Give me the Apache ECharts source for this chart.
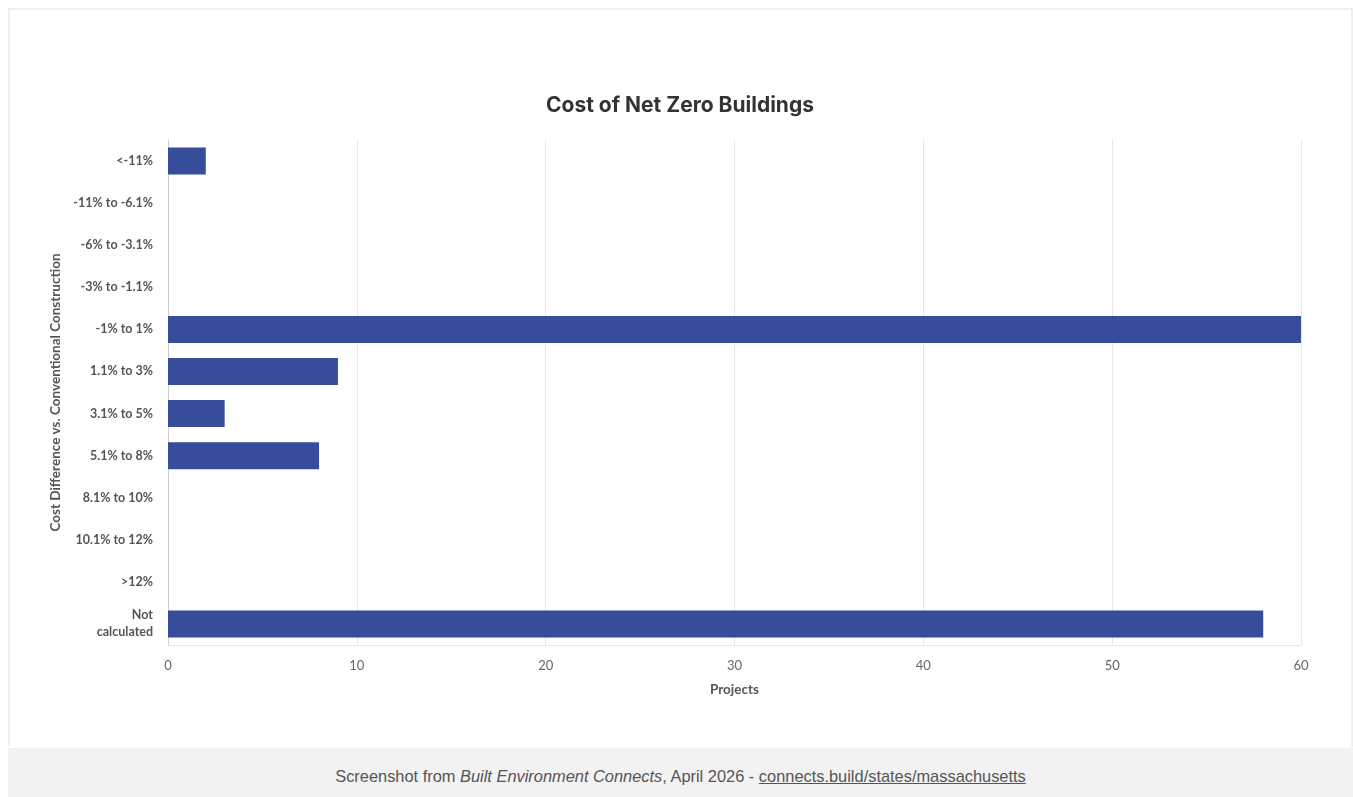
<!DOCTYPE html>
<html>
<head>
<meta charset="utf-8">
<script src="https://cdn.jsdelivr.net/npm/echarts@6/dist/echarts.min.js"></script>
<style>
  html, body { margin: 0; padding: 0; background: #fff; }
  #frame {
    position: absolute; left: 8px; top: 8px; width: 1341px; height: 737px;
    border: 2px solid #efefef; border-bottom: none;
  }
  #chart { position: absolute; left: 0; top: 0; width: 1353px; height: 748px; }
  #foot {
    position: absolute; left: 8px; top: 748px; width: 1345px; height: 49px;
    background: #f2f2f2; color: #555; text-align: center;
    font-family: "Liberation Sans", Arial, sans-serif; font-size: 16.4px; line-height: 56px;
  }
  #foot a { color: #555; text-decoration: underline; }
</style>
</head>
<body>
<div id="frame"></div>
<div id="chart"></div>
<div id="foot">Screenshot from <i>Built Environment Connects</i>, April 2026 - <a>connects.build/states/massachusetts</a></div>
<script>
// categories, top to bottom
const costBands = ['<-11%', '-11% to -6.1%', '-6% to -3.1%', '-3% to -1.1%', '-1% to 1%', '1.1% to 3%',
  '3.1% to 5%', '5.1% to 8%', '8.1% to 10%', '10.1% to 12%', '>12%', 'Not calculated']
const projectCounts = [2, 0, 0, 0, 60, 9, 3, 8, 0, 0, 0, 58]
const xTicks = [0, 10, 20, 30, 40, 50, 60]

const font = 'Lato, "Open Sans", sans-serif'
const $chart = echarts.init(document.getElementById('chart'))
$chart.setOption({
  animation: false,
  title: {
    text: 'Cost of Net Zero Buildings',
    left: 675,
    textAlign: 'center',
    top: 90,
    textStyle: { fontFamily: 'Inter, Lato, sans-serif', fontSize: 21, fontWeight: 'bold', color: '#333' }
  },
  grid: { left: 168, right: 52, top: 140, bottom: 103 },
  xAxis: {
    type: 'value',
    min: xTicks[0],
    max: xTicks[xTicks.length - 1],
    interval: 10,
    name: 'Projects',
    nameLocation: 'middle',
    nameGap: 38,
    nameTextStyle: { fontFamily: font, fontSize: 13.5, fontWeight: 'bold', color: '#555' },
    axisLine: { show: true, lineStyle: { color: '#e6e6e6' } },
    axisTick: { show: false },
    axisLabel: { fontFamily: font, fontSize: 13, color: '#666', margin: 14 },
    splitLine: { lineStyle: { color: '#e6e6e6' } }
  },
  yAxis: {
    type: 'category',
    inverse: true,
    data: costBands,
    name: 'Cost Difference vs. Conventional Construction',
    nameLocation: 'middle',
    nameGap: 100,
    nameTextStyle: { fontFamily: font, fontSize: 13.5, fontWeight: 'bold', color: '#555' },
    axisLine: { show: true, lineStyle: { color: '#ccc' } },
    axisTick: { show: false },
    axisLabel: {
      fontFamily: font, fontSize: 12.5, fontWeight: 'bold', color: '#555', margin: 15, lineHeight: 17,
      formatter: v => v.replace('Not calculated', 'Not\ncalculated')
    }
  },
  series: [{
    type: 'bar',
    data: projectCounts,
    barWidth: 27,
    itemStyle: { color: '#364d9b' }
  }]
})
</script>
</body>
</html>
